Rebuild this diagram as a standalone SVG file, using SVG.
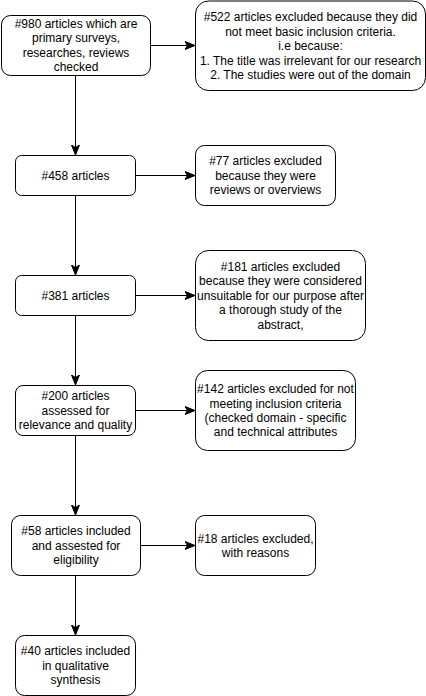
<svg xmlns="http://www.w3.org/2000/svg" width="426" height="696" viewBox="0 0 426 696">
<defs>
<marker id="arr" markerUnits="userSpaceOnUse" markerWidth="10" markerHeight="10" viewBox="0 0 10 10" refX="10" refY="5" orient="auto">
<path d="M0,1 L10,5 L0,9 L2.5,5 Z" fill="#000" stroke="#000" stroke-width="1"/>
</marker>
</defs>
<style>
rect{fill:#fff;stroke:#000;stroke-width:1}
text{font-family:"Liberation Sans",Arial,sans-serif;font-size:12px;fill:#000;text-anchor:middle}
.c line{stroke:#000;stroke-width:1;marker-end:url(#arr)}
</style>
<g class="c" id="connectors">
<line x1="150.5" y1="45.5" x2="195" y2="45.5"/>
<line x1="75.5" y1="75.5" x2="75.5" y2="155"/>
<line x1="135.5" y1="175.5" x2="195" y2="175.5"/>
<line x1="75.5" y1="195.5" x2="75.5" y2="275"/>
<line x1="135.5" y1="295.5" x2="195" y2="295.5"/>
<line x1="75.5" y1="315.5" x2="75.5" y2="385"/>
<line x1="135.5" y1="410.5" x2="195" y2="410.5"/>
<line x1="75.5" y1="435.5" x2="75.5" y2="515"/>
<line x1="140.5" y1="545.5" x2="195" y2="545.5"/>
<line x1="75.5" y1="575.5" x2="75.5" y2="635"/>
</g>
<g id="n980"><rect x="1.5" y="15.5" width="149" height="60" rx="9"/>
<text x="76" y="27.7">#980 articles which are</text><text x="76" y="42.1">primary surveys,</text><text x="76" y="56.5">researches, reviews</text><text x="76" y="70.9">checked</text></g>
<g id="n522"><rect x="195.5" y="1" width="230" height="89.5" rx="13"/>
<text x="310.5" y="21.3">#522 articles excluded because they did</text><text x="310.5" y="35.7">not meet basic inclusion criteria.</text><text x="310.5" y="50.1">i.e because:</text><text x="310.5" y="64.5">1. The title was irrelevant for our research</text><text x="310.5" y="78.9">2. The studies were out of the domain</text></g>
<g id="n458"><rect x="15.5" y="155.5" width="120" height="40" rx="6"/>
<text x="75.5" y="179.8">#458 articles</text></g>
<g id="n77"><rect x="195.5" y="145.5" width="140" height="60" rx="9"/>
<text x="265.5" y="165.4">#77 articles excluded</text><text x="265.5" y="179.8">because they were</text><text x="265.5" y="194.2">reviews or overviews</text></g>
<g id="n381"><rect x="15.5" y="275.5" width="120" height="40" rx="6"/>
<text x="75.5" y="299.8">#381 articles</text></g>
<g id="n181"><rect x="195.5" y="250.5" width="170" height="90" rx="13"/>
<text x="280.5" y="271">#181 articles excluded</text><text x="280.5" y="285.4">because they were considered</text><text x="280.5" y="299.8">unsuitable for our purpose after</text><text x="280.5" y="314.2">a thorough study of the</text><text x="280.5" y="328.6">abstract,</text></g>
<g id="n200"><rect x="15.5" y="385.5" width="120" height="50" rx="7.5"/>
<text x="75.5" y="400.4">#200 articles</text><text x="75.5" y="414.8">assessed for</text><text x="75.5" y="429.2">relevance and quality</text></g>
<g id="n142"><rect x="195.5" y="370.5" width="160" height="80" rx="12"/>
<text x="275.5" y="393.2">#142 articles excluded for not</text><text x="275.5" y="407.6">meeting inclusion criteria</text><text x="275.5" y="422">(checked domain - specific</text><text x="275.5" y="436.4">and technical attributes</text></g>
<g id="n58"><rect x="11.5" y="515.5" width="129" height="60" rx="9"/>
<text x="76" y="535.4">#58 articles included</text><text x="76" y="549.8">and assested for</text><text x="76" y="564.2">eligibility</text></g>
<g id="n18"><rect x="195.5" y="515.5" width="120" height="60" rx="9"/>
<text x="255.5" y="542.6">#18 articles excluded,</text><text x="255.5" y="557">with reasons</text></g>
<g id="n40"><rect x="15.5" y="635.5" width="120" height="60" rx="9"/>
<text x="75.5" y="655.4">#40 articles included</text><text x="75.5" y="669.8">in qualitative</text><text x="75.5" y="684.2">synthesis</text></g>
</svg>
